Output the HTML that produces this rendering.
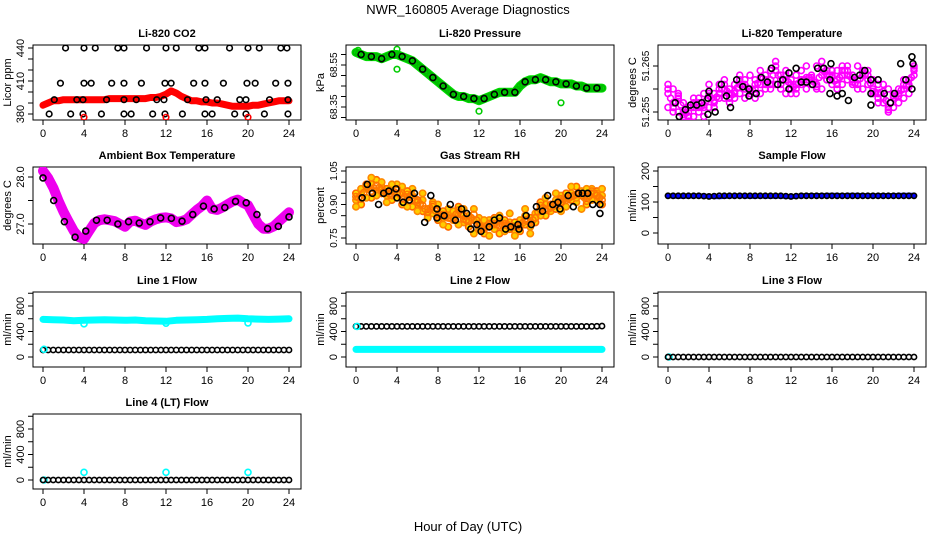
<!DOCTYPE html>
<html><head><meta charset="utf-8"><style>
html,body{margin:0;padding:0;background:#fff}
svg{display:block}
text{font-family:"Liberation Sans",sans-serif;fill:#000}
</style></head><body>
<svg id="chart" width="936" height="540" viewBox="0 0 936 540" xmlns="http://www.w3.org/2000/svg">
<text x="468" y="14" font-size="13" text-anchor="middle">NWR_160805  Average Diagnostics</text>
<text x="468" y="531" font-size="13" text-anchor="middle">Hour of Day (UTC)</text>
</svg>
<script>
// ---- data ----
const xTicks=[0,4,8,12,16,20,24];
const co2Red=[388,390,392,392,393,393,393,393,393,393,393,393,393,394,394,394,394,394,394,394,394,395,395,396,398,401,399,396,394,392,392,391,391,390,390,389,388,387,387,387,387,388,388,389,390,391,392,392,392];
const co2Hours440=[2.2,4,5.1,7.3,7.9,10.1,12,13,15.2,15.8,18.2,20,21.1,23.2,23.8];
const co2Hours408=[1.7,4,4.7,6.7,7.9,9.6,11.9,12.5,14.7,15.8,17.6,19.9,20.7,22.7,23.9];
const co2Hours393=[1.1,3.3,3.9,6.2,7.9,9.1,11.1,11.8,14.1,15.9,17,19.2,19.8,22.1,23.9];
const co2Hours380=[0.6,2.7,3.9,5.7,7.9,8.6,10.7,11.9,13.6,15.8,16.5,18.7,19.8,21.6,23.9];
const co2RedOutHours=[4,12,20];
const pressure=[68.61,68.60,68.59,68.59,68.59,68.58,68.59,68.60,68.60,68.59,68.58,68.57,68.55,68.53,68.51,68.49,68.47,68.45,68.43,68.41,68.40,68.40,68.39,68.39,68.38,68.39,68.40,68.41,68.42,68.42,68.42,68.42,68.45,68.47,68.48,68.48,68.49,68.48,68.47,68.47,68.46,68.46,68.46,68.45,68.45,68.44,68.44,68.44,68.44];
const pressOutH=[0.2,4,4,12,20];
const pressOutV=[68.62,68.625,68.53,68.33,68.37];
const tempA=[9,7,8,5,4,6,7,4,6,9,8,10,7,11,9,12,10,8,11,13,12,14,10,12,9,13,11,15,12,10,13,14,11,12,15,13,12,10,14,12,9,11,8,6,9,7,10,12,14];
const tempB=[6,10,5,7,3,4,8,6,9,7,11,8,10,9,12,8,13,11,9,10,14,11,13,9,12,10,14,12,11,15,10,12,13,14,11,12,13,15,10,11,12,8,7,10,6,9,8,11,13];
const tempC=[11,5,9,4,6,8,5,9,11,6,10,12,9,8,13,10,9,12,14,11,10,16,12,14,11,9,12,10,13,11,16,12,14,10,13,15,11,12,13,14,10,7,11,5,8,10,12,9,15];
const tempBlackH=[0.7,1.1,1.7,2.2,2.8,3.3,3.9,3.9,4,4.6,5.2,5.7,6.1,6.7,7.3,7.9,7.9,8.6,9.1,9.7,10.1,10.7,11.2,11.8,11.8,12.5,13,13.5,14.1,14.6,15.2,15.8,15.8,15.9,16.5,17,17.6,18.2,18.7,19.2,19.8,19.8,19.8,20.5,21.1,21.7,22.1,22.7,23.2,23.8,23.9,23.8];
const tempBlackV=[7,4,5.5,6.5,6.5,7,4.5,8,9.5,5,11,8.5,6,12,10.5,10,8.5,9,12.5,11.5,14.5,11,12,13.5,10,14.5,11.5,11.5,11,14.5,14.5,12,9,15.5,8.5,9,7.5,12.5,13,14,12,9,6.5,12,9,7,9,15.5,12,10,15.5,17];
const ambient=[28.13,27.98,27.77,27.5,27.26,27.05,26.85,26.72,26.68,26.85,27.02,27.08,27.1,27.08,27.06,27.0,26.94,27.05,27.07,27.02,26.98,27.05,27.1,27.13,27.14,27.12,27.04,27.06,27.1,27.2,27.3,27.38,27.5,27.32,27.3,27.35,27.42,27.48,27.52,27.45,27.4,27.2,27.0,26.9,26.9,26.95,27.05,27.15,27.25];
const rhA=[92,95,97,99,96,98,94,96,99,95,93,97,90,92,88,91,86,84,88,83,86,82,85,88,79,81,83,79,84,80,82,78,83,85,80,86,88,90,87,92,94,89,95,91,96,93,97,92,94];
const rhB=[95,90,99,93,101,95,97,92,95,90,96,89,92,87,85,89,83,87,80,84,89,85,80,83,82,77,80,84,77,83,79,82,78,81,84,82,91,85,90,88,91,95,92,98,94,90,95,96,90];
const rhC=[89,97,93,102,94,100,91,99,93,98,89,94,87,95,84,86,90,81,85,87,81,88,83,77,84,83,76,81,85,78,86,76,80,88,77,84,85,93,89,95,87,93,98,93,88,97,92,95,97];
const rhBlackH=[0.6,1.1,1.6,2.2,2.7,3.2,3.9,4,4.6,5.2,5.7,6.7,7.3,7.9,7.9,8.6,9.2,9.7,10.3,10.8,11.2,11.8,12.2,13,13.5,14,14.6,15.1,15.8,15.9,16.6,17.1,17.6,18.2,18.7,19.2,19.7,19.9,20.7,21.2,21.7,22.1,22.6,23.1,23.8,23.8];
const rhBlackV=[93,99,95,90,95,96,97,93,91,92,95,82,94,88,84,85,90,83,88,86,79,81,78,80,83,84,79,80,81,79,85,81,89,87,94,90,91,88,94,89,95,95,95,90,90,86];
const sampleBlue=[120,118,119,120,118,117,119,120,118,119,118,119,117,120,121,121,122,121,122,121,120,121,121,122,122];
const sampleBlack=[120,120,120,120,118,120,120,120,120,120,120,120,118,120,120,120,120,120,120,120,120,120,120,120,120];
const line1Cyan=[590,585,580,570,575,580,585,580,575,580,570,565,560,575,580,585,590,600,605,610,600,595,590,595,600];
const line1Black=[110,110,110,110,110,110,110,110,110,110,110,110,110,110,110,110,110,110,110,110,110,110,110,110,110];
const line1CyanOutH=[4,12,20]; const line1CyanOutV=[520,530,535];
const line2Black=[480,480,480,480,480,480,480,480,480,480,480,480,480,480,480,480,480,480,480,480,480,480,480,480,485];
const line2Cyan=[120,120,120,120,120,120,120,120,120,120,120,120,120,120,120,120,120,120,120,120,120,120,120,120,120];
const line3Black=[0,0,0,0,0,0,0,0,0,0,0,0,0,0,0,0,0,0,0,0,0,0,0,0,0];
const line4Black=[0,0,0,0,0,0,0,0,0,0,0,0,0,0,0,0,0,0,0,0,0,0,0,0,0];
const line4OutH=[4,12,20]; const line4OutV=[120,120,120];

// ---- drawing ----
const svg=document.getElementById('chart');
const NS='http://www.w3.org/2000/svg';
function mk(tag,attrs,parent){const e=document.createElementNS(NS,tag);for(const k in attrs)e.setAttribute(k,attrs[k]);(parent||svg).appendChild(e);return e;}
const colX0=[43,356,668], rowTop=[45,167,292,414], rowBot=[120,244,367,489];
function panel(name,col,row,title,ytitle,ya,yb,ticks,labels,lfs){
  lfs=lfs||11;
  const g=mk('g',{});
  
  
  const x0=colX0[col],t=rowTop[row],b=rowBot[row],L=x0-10,R=x0+258;
  const sx=h=>x0+h*246/24;
  const sy=v=>ya[1]+(v-ya[0])*(yb[1]-ya[1])/(yb[0]-ya[0]);
  const box=mk('rect',{x:L,y:t,width:R-L,height:b-t,fill:'none',stroke:'#000','stroke-width':1},g);
  
  
  const tt=mk('text',{x:(L+R)/2,y:t-8,'font-size':11,'font-weight':'bold','text-anchor':'middle'},g);tt.textContent=title;
  
  
  xTicks.forEach(h=>{mk('line',{x1:sx(h),x2:sx(h),y1:b,y2:b+5,stroke:'#000'},g);
    const tx=mk('text',{x:sx(h),y:b+17,'font-size':11,'text-anchor':'middle'},g);tx.textContent=h;
    
    });
  ticks.forEach(v=>{const y=sy(v);if(y<t-1||y>b+1)return;mk('line',{x1:L-5,x2:L,y1:y,y2:y,stroke:'#000'},g);});
  labels.forEach(([v,s])=>{const y=sy(v);const tx=mk('text',{x:L-9,y:y,'font-size':lfs,'text-anchor':'middle',transform:`rotate(-90 ${L-9} ${y})`},g);tx.textContent=s;
    
    });
  const yt=mk('text',{x:L-22,y:(t+b)/2,'font-size':11,'text-anchor':'middle',transform:`rotate(-90 ${L-22} ${(t+b)/2})`},g);yt.textContent=ytitle;
  
  
  const clip='c'+name;const cp=mk('clipPath',{id:clip},g);mk('rect',{x:L,y:t,width:R-L,height:b-t},cp);
  const data=mk('g',{'clip-path':`url(#${clip})`},g);
  return {sx,sy,g:data,name};
}
function tOf(arr,i){return i*24/(arr.length-1);}
function band(P,arr,color,w,sname){
  const pts=arr.map((v,i)=>P.sx(tOf(arr,i)).toFixed(1)+','+P.sy(v).toFixed(1)).join(' ');
  const l=mk('polyline',{points:pts,fill:'none',stroke:color,'stroke-width':w,'stroke-linejoin':'round','stroke-linecap':'round'},P.g);
  
  
}
function pts(P,hs,vs,color,r,sname,fill){
  hs.forEach((h,i)=>{const c=mk('circle',{cx:P.sx(h),cy:P.sy(vs[i]),r:r,fill:fill||'none',stroke:color,'stroke-width':1.6},P.g);
    
    });
}
function ser(P,arr,color,r,sname,fill){pts(P,arr.map((v,i)=>tOf(arr,i)),arr,color,r,sname,fill);}
function dense(P,arr,color,r,sname){
  const hs=[],vs=[];
  for(let i=0;i<arr.length;i++){hs.push(tOf(arr,i));vs.push(arr[i]);
    if(i<arr.length-1){hs.push((tOf(arr,i)+tOf(arr,i+1))/2);vs.push((arr[i]+arr[i+1])/2);}}
  pts(P,hs,vs,color,r,sname);
}
const flowT=[0,200,400,600,800,1000], flowL=[[0,'0'],[400,'400'],[800,'800']];

// CO2
let P=panel('co2',0,0,'Li-820 CO2','Licor ppm',[440,48],[380,114],[380,390,400,410,420,430,440],[[380,'380'],[410,'410'],[440,'440']]);
band(P,co2Red,'#f00',7,'co2-red-series');
pts(P,co2Hours440,co2Hours440.map(()=>440),'#000',2.8,'co2-point-440');
pts(P,co2Hours408,co2Hours408.map(()=>408),'#000',2.8,'co2-point-408');
pts(P,co2Hours393,co2Hours393.map(()=>393),'#000',2.8,'co2-point-393');
pts(P,co2Hours380,co2Hours380.map(()=>380),'#000',2.8,'co2-point-380');
pts(P,co2RedOutHours,co2RedOutHours.map(()=>377),'#f00',2.8,'co2-red-outlier');
// Pressure
P=panel('pressure',1,0,'Li-820 Pressure','kPa',[68.55,65],[68.35,107],[68.3,68.35,68.4,68.45,68.5,68.55,68.6],[[68.35,'68.35'],[68.55,'68.55']],10);
band(P,pressure,'#0d0',9,'pressure-green-series');
dense(P,pressure,'#0b0',2.8,'pressure-green-point');
pts(P,pressOutH,pressOutV,'#0c0',2.8,'pressure-outlier');
pts(P,pressure.map((v,i)=>tOf(pressure,i)).filter((h,i)=>i%2==1),pressure.filter((v,i)=>i%2==1),'#000',3,'pressure-black-point');
// Li-820 temperature (values in 0.001 C above 51.25)
P=panel('li820temp',2,0,'Li-820 Temperature','degrees C',[15,66],[5,112],[5,10,15],[[5,'51.255'],[15,'51.265']],10);
ser(P,tempA,'#f0f',3,'temp-magenta-point');
ser(P,tempB,'#f0f',3,'temp-magenta-point');
ser(P,tempC,'#f0f',3,'temp-magenta-point');
dense(P,tempA.map((v,i)=>(v+tempC[i])/2),'#f0f',3,'temp-magenta-point');
pts(P,tempBlackH,tempBlackV,'#000',3,'temp-black-point');
// Ambient
P=panel('ambient',0,1,'Ambient Box Temperature','degrees C',[28,177],[27,224],[26.5,27,27.5,28],[[27,'27.0'],[28,'28.0']]);
band(P,ambient,'#e0e',10,'ambient-magenta-series');
ser(P,ambient.filter((v,i)=>i%2==1),'#000',3,'ambient-black-point');
// RH
P=panel('rh',1,1,'Gas Stream RH','percent',[105,171],[75,238],[75,80,85,90,95,100,105],[[75,'0.75'],[90,'0.90'],[105,'1.05']],10);
ser(P,rhA,'#f80',3.2,'rh-orange-point','#fc0');
ser(P,rhB,'#f60',3.2,'rh-orange-point','#fd0');
ser(P,rhC,'#f80',3.2,'rh-orange-point','#fc0');
dense(P,rhA.map((v,i)=>(v+rhB[i])/2),'#f70',3.2,'rh-orange-point');
pts(P,rhBlackH,rhBlackV,'#000',3,'rh-black-point');
// Sample flow
P=panel('sampleflow',2,1,'Sample Flow','ml/min',[200,171],[0,233],[0,50,100,150,200],[[0,'0'],[100,'100'],[200,'200']]);
band(P,sampleBlue,'#00f',5,'sample-blue-series');
dense(P,sampleBlack,'#000',2.6,'sample-black-point');
// Line 1
P=panel('line1',0,2,'Line 1 Flow','ml/min',[800,306],[0,357],flowT,flowL);
band(P,line1Cyan,'#0ff',7,'line1-cyan-series');
dense(P,line1Black,'#000',2.6,'line1-black-point');
pts(P,[0.1],[120],'#0ff',3,'line1-cyan-start');
pts(P,line1CyanOutH,line1CyanOutV,'#0ff',3,'line1-cyan-outlier');
// Line 2
P=panel('line2',1,2,'Line 2 Flow','ml/min',[800,306],[0,357],flowT,flowL);
band(P,line2Cyan,'#0ff',7,'line2-cyan-series');
dense(P,line2Black,'#000',2.6,'line2-black-point');
pts(P,[0.1],[480],'#0ff',3,'line2-cyan-start');
// Line 3
P=panel('line3',2,2,'Line 3 Flow','ml/min',[800,306],[0,357],flowT,flowL);
pts(P,[0.1],[0],'#0ff',3,'line3-cyan-start');
dense(P,line3Black,'#000',2.6,'line3-black-point');
// Line 4
P=panel('line4',0,3,'Line 4 (LT) Flow','ml/min',[800,429],[0,480],flowT,flowL);
pts(P,[0.1],[0],'#0ff',3,'line4-cyan-start');
dense(P,line4Black,'#000',2.6,'line4-black-point');
pts(P,line4OutH,line4OutV,'#0ff',3,'line4-cyan-outlier');
</script>
</body></html>
